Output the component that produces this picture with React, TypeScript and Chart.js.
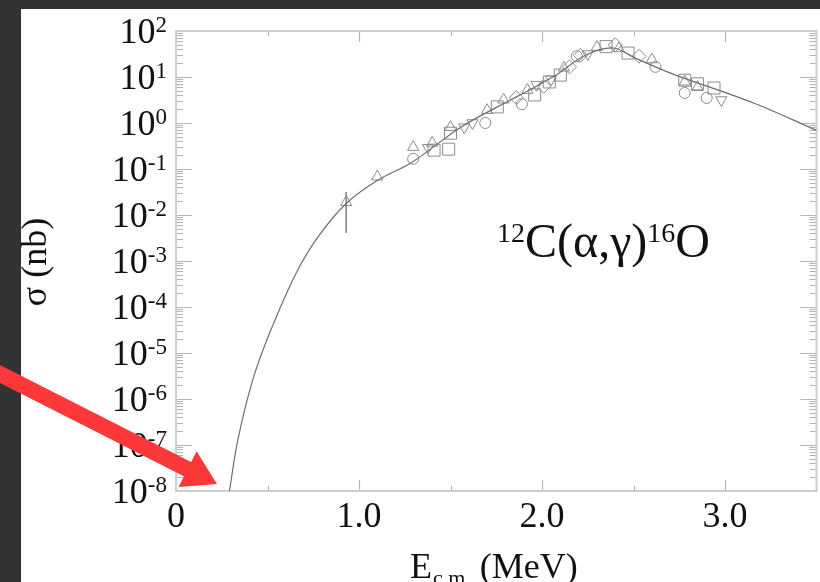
import React, { useEffect, useRef } from 'react';
import { Chart, registerables } from 'chart.js';
Chart.register(...registerables);

// ---- data (E in MeV, sigma in nb) ----
const curveE = [0.292, 0.338, 0.419, 0.511, 0.657, 0.78, 0.93, 1.1, 1.29, 1.556, 1.756, 1.827, 1.97, 2.026, 2.08, 2.24, 2.39, 2.51, 2.62, 2.73, 3.16, 3.5];
const curveSigma = [1e-8, 1.29e-7, 2.57e-6, 2.69e-5, 5.5e-4, 3.5e-3, 1.78e-2, 5.6e-2, 0.141, 0.81, 2.24, 3.16, 6.3, 8.5, 11.2, 30.2, 42.7, 25.7, 16.6, 11.0, 2.69, 0.69];

const triUpE = [0.93, 1.1, 1.296, 1.4, 1.5, 1.7, 1.79, 1.92, 2.12, 2.3, 2.42, 2.6, 2.78, 2.85];
const triUpSigma = [0.019, 0.068, 0.3, 0.37, 0.81, 1.9, 3.2, 5.2, 15.8, 44.7, 41.7, 24, 7.9, 6.0];

const triDownE = [1.377, 1.575, 1.62, 1.97, 2.05, 2.25, 2.98];
const triDownSigma = [0.29, 0.81, 1.0, 6.8, 8.9, 31.6, 3.16];

const circleE = [1.296, 1.69, 1.89, 2.19, 2.62, 2.78, 2.9];
const circleSigma = [0.166, 1.0, 2.57, 28.2, 16.6, 4.5, 3.5];

const squareE = [1.41, 1.49, 1.5, 1.756, 1.96, 2.04, 2.1, 2.35, 2.47, 2.78, 2.85, 2.94];
const squareSigma = [0.257, 0.27, 0.6, 2.24, 4.07, 7.8, 11.0, 45.7, 33.1, 8.5, 7.1, 5.75];

const diamondE = [1.86, 2.01, 2.15, 2.21, 2.4, 2.53];
const diamondSigma = [3.55, 6.3, 16.6, 29.5, 50, 28.2];

const errorBarE = [0.93, 0.93];
const errorBarSigma = [0.0316, 0.0041];

const xTickValues = [0, 1, 2, 3];
const xTickLabels = ['0', '1.0', '2.0', '3.0'];
const xMinorValues = [0.5, 1.5, 2.5];
const yExponents = [-8, -7, -6, -5, -4, -3, -2, -1, 0, 1, 2];

const W = 826;
const H = 582;
const SERIF = "'Liberation Serif', 'Times New Roman', serif";
const MARKER = '#8c8c8c';
const CURVE = '#6e6e6e';
const AXIS = '#cdcdcd';
const TICK = '#b4b4b4';
const TEXT = '#111111';

const pts = (xs: number[], ys: number[]) => xs.map((x, i) => ({ x, y: ys[i] }));

const decor = {
  id: 'decor',
  beforeDraw(chart: any) {
    const ctx = chart.ctx;
    ctx.save();
    ctx.fillStyle = '#333335';
    ctx.fillRect(0, 0, W, H);
    ctx.fillStyle = '#ffffff';
    ctx.fillRect(21, 9, W - 21, H - 9);
    ctx.restore();
  },
  beforeDatasetsDraw(chart: any) {
    const ctx = chart.ctx;
    const xs = chart.scales.x;
    const ys = chart.scales.y;
    const { left, right, top, bottom } = chart.chartArea;
    ctx.save();
    ctx.strokeStyle = TICK;
    ctx.lineWidth = 1.2;
    ctx.beginPath();
    xTickValues.forEach((v) => {
      const px = Math.round(xs.getPixelForValue(v)) + 0.5;
      ctx.moveTo(px, bottom); ctx.lineTo(px, bottom - 11);
      ctx.moveTo(px, top); ctx.lineTo(px, top + 11);
    });
    xMinorValues.forEach((v) => {
      const px = Math.round(xs.getPixelForValue(v)) + 0.5;
      ctx.moveTo(px, bottom); ctx.lineTo(px, bottom - 5);
      ctx.moveTo(px, top); ctx.lineTo(px, top + 5);
    });
    yExponents.forEach((e) => {
      const base = Math.pow(10, e);
      const py = Math.round(ys.getPixelForValue(base)) + 0.5;
      ctx.moveTo(left, py); ctx.lineTo(left + 16, py);
      ctx.moveTo(right, py); ctx.lineTo(right - 16, py);
      if (e < yExponents[yExponents.length - 1]) {
        for (let m = 2; m <= 9; m++) {
          const my = Math.round(ys.getPixelForValue(base * m)) + 0.5;
          ctx.moveTo(left, my); ctx.lineTo(left + 7, my);
          ctx.moveTo(right, my); ctx.lineTo(right - 7, my);
        }
      }
    });
    ctx.stroke();
    ctx.strokeStyle = AXIS;
    ctx.lineWidth = 2;
    ctx.strokeRect(left, top, right - left, bottom - top);
    ctx.restore();
  },
  afterDraw(chart: any) {
    const ctx = chart.ctx;
    const xs = chart.scales.x;
    const ys = chart.scales.y;
    const { bottom } = chart.chartArea;
    ctx.save();
    ctx.fillStyle = TEXT;
    // y tick labels
    const labelRight = 167;
    yExponents.forEach((e) => {
      const py = ys.getPixelForValue(Math.pow(10, e));
      ctx.textAlign = 'right';
      ctx.textBaseline = 'alphabetic';
      ctx.font = `23px ${SERIF}`;
      const ex = String(e);
      const ew = ctx.measureText(ex).width;
      ctx.fillText(ex, labelRight, py + 1);
      ctx.font = `36px ${SERIF}`;
      ctx.fillText('10', labelRight - ew, py + 12);
    });
    // x tick labels
    ctx.font = `36px ${SERIF}`;
    ctx.textAlign = 'center';
    xTickValues.forEach((v, i) => {
      ctx.fillText(xTickLabels[i], xs.getPixelForValue(v), bottom + 36);
    });
    // x title
    ctx.textAlign = 'left';
    let tx = 410;
    ctx.font = `36px ${SERIF}`;
    ctx.fillText('E', tx, 578);
    tx += ctx.measureText('E').width + 1;
    ctx.font = `22px ${SERIF}`;
    ctx.fillText('c.m.', tx, 585);
    tx += ctx.measureText('c.m.').width;
    ctx.font = `36px ${SERIF}`;
    ctx.fillText(' (MeV)', tx, 578);
    // y title
    ctx.save();
    ctx.translate(37, 262);
    ctx.rotate(-Math.PI / 2);
    ctx.textAlign = 'center';
    ctx.textBaseline = 'middle';
    ctx.font = `36px ${SERIF}`;
    ctx.fillText('σ (nb)', 0, 0);
    ctx.restore();
    // reaction label
    ctx.textAlign = 'left';
    ctx.textBaseline = 'alphabetic';
    let ax = 497;
    ctx.font = `28px ${SERIF}`;
    ctx.fillText('12', ax, 242);
    ax += ctx.measureText('12').width;
    ctx.font = `48px ${SERIF}`;
    ctx.fillText('C(α,γ)', ax, 257);
    ax += ctx.measureText('C(α,γ)').width;
    ctx.font = `28px ${SERIF}`;
    ctx.fillText('16', ax, 242);
    ax += ctx.measureText('16').width;
    ctx.font = `48px ${SERIF}`;
    ctx.fillText('O', ax, 257);
    // red arrow
    const tipX = 217, tipY = 484;
    const ux = 0.892, uy = 0.452;
    const nx = -uy, ny = ux;
    const headLen = 33, headHalf = 20, shaftHalf = 8;
    const bx = tipX - headLen * ux, by = tipY - headLen * uy;
    const sx = bx - 260 * ux, sy = by - 260 * uy;
    ctx.fillStyle = '#fc3838';
    ctx.beginPath();
    ctx.moveTo(sx + shaftHalf * nx, sy + shaftHalf * ny);
    ctx.lineTo(bx + 1 * ux + shaftHalf * nx, by + 1 * uy + shaftHalf * ny);
    ctx.lineTo(bx + 1 * ux - shaftHalf * nx, by + 1 * uy - shaftHalf * ny);
    ctx.lineTo(sx - shaftHalf * nx, sy - shaftHalf * ny);
    ctx.closePath();
    ctx.fill();
    ctx.beginPath();
    ctx.moveTo(tipX, tipY);
    ctx.lineTo(bx + headHalf * nx, by + headHalf * ny);
    ctx.lineTo(bx - headHalf * nx, by - headHalf * ny);
    ctx.closePath();
    ctx.fill();
    ctx.restore();
  },
};

export default function App() {
  const ref = useRef<HTMLCanvasElement>(null);
  useEffect(() => {
    const canvas = ref.current;
    if (!canvas) return;
    const marker = (label: string, xs: number[], ys: number[], style: string, radius: number, rotation = 0) => ({
      label,
      data: pts(xs, ys),
      pointStyle: style,
      pointRadius: radius,
      pointRotation: rotation,
      borderColor: MARKER,
      backgroundColor: 'rgba(0,0,0,0)',
      pointBorderWidth: 1,
      showLine: false,
    });
    const chart = new Chart(canvas, {
      type: 'scatter',
      data: {
        datasets: [
          {
            label: 'fit',
            data: pts(curveE, curveSigma),
            showLine: true,
            pointRadius: 0,
            borderColor: CURVE,
            borderWidth: 1.2,
            tension: 0.35,
          } as any,
          {
            label: 'error',
            data: pts(errorBarE, errorBarSigma),
            showLine: true,
            pointRadius: 0,
            borderColor: MARKER,
            borderWidth: 1,
          } as any,
          marker('triUp', triUpE, triUpSigma, 'triangle', 6.5) as any,
          marker('triDown', triDownE, triDownSigma, 'triangle', 6.5, 180) as any,
          marker('circle', circleE, circleSigma, 'circle', 5.5) as any,
          marker('square', squareE, squareSigma, 'rect', 8.5) as any,
          marker('diamond', diamondE, diamondSigma, 'rectRot', 7) as any,
        ],
      },
      options: {
        animation: false,
        responsive: false,
        devicePixelRatio: 1,
        layout: { padding: { left: 176, top: 31, right: 3.5, bottom: 91 } },
        scales: {
          x: { type: 'linear', min: 0, max: 3.5, display: false },
          y: { type: 'logarithmic', min: 1e-8, max: 100, display: false },
        },
        plugins: { legend: { display: false }, tooltip: { enabled: false } },
      },
      plugins: [decor],
    } as any);
    return () => chart.destroy();
  }, []);
  return (
    <div style={{ position: 'fixed', left: 0, top: 0, width: 820, height: 582, overflow: 'hidden' }}>
      <canvas ref={ref} width={W} height={H} style={{ display: 'block', width: W, height: H }} />
    </div>
  );
}
